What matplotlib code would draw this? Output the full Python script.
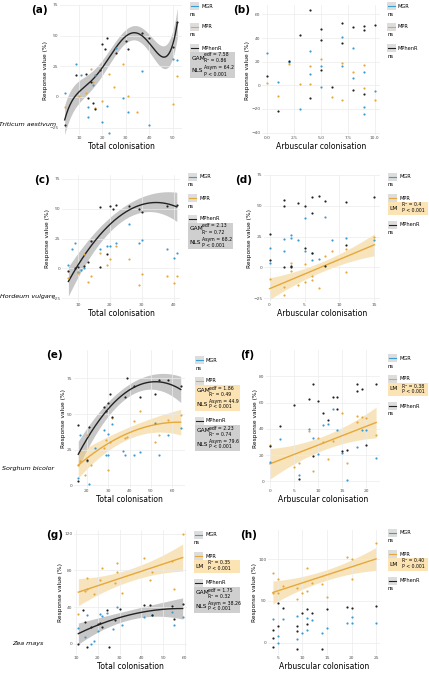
import numpy as np
import matplotlib
matplotlib.use("Agg")
import matplotlib.pyplot as plt

BLUE = "#3a9bd5"; ORANGE = "#e6a83a"; BLACK = "#222222"

# ---------------- data ----------------
a_blk_x = [4,9,13,14,15,16,17,19,20,21,22,26,30,31,37,40,50,52]
a_blk_y = [-23,18,19,-1,12,-5,-10,22,43,39,48,36,46,39,52,48,41,61]
a_blu_x = [4,9,11,14,14,16,17,20,22,23,26,29,31,37,40,50,52]
a_blu_y = [3,27,18,-16,-8,10,18,-20,-7,-29,40,-1,-12,21,-23,31,30]
a_org_x = [4,10,13,15,16,17,19,20,23,25,29,31,35,40,50,52]
a_org_y = [-8,1,3,23,12,-9,22,-3,19,8,27,1,-12,-38,-6,17]

b_blk_x = [0,1,2,3,4,4,5,5,5,6,7,7,8,8,9,9,9,10]
b_blk_y = [8,-22,21,43,64,-11,48,38,13,-1,53,36,49,-4,50,47,-7,51]
b_blu_x = [0,1,2,3,4,4,5,5,7,7,8,8,9,9,9,10]
b_blu_y = [27,3,20,-20,29,10,-1,16,41,16,32,6,11,-18,-24,-5]
b_org_x = [0,1,2,3,4,4,5,6,7,7,8,9,9,10]
b_org_y = [2,-9,18,1,16,1,22,-10,19,-12,11,17,-2,-12]

c_blk_x = [7,9,10,12,13,14,17,17,19,20,21,22,26,29,30,38,41]
c_blk_y = [-2,0,1,2,5,23,51,1,12,52,50,53,52,50,47,52,53]
c_blu_x = [7,8,9,10,11,12,17,19,20,22,26,29,30,38,40,41]
c_blu_y = [3,16,21,-3,-1,0,16,19,19,21,37,21,24,16,9,13]
c_org_x = [7,10,12,13,14,17,19,20,22,26,29,30,38,40,41]
c_org_y = [-8,-4,12,-11,-6,13,3,8,19,8,-14,-5,-6,-12,-6]

d_blk_x = [0,0,2,2,2,3,3,4,5,5,6,6,6,7,8,8,11,11,15]
d_blk_y = [27,6,55,50,0,0,1,52,50,16,57,44,12,58,54,1,53,18,57]
d_blu_x = [0,0,2,2,3,3,4,5,5,6,6,7,8,9,11,15]
d_blu_y = [16,4,23,13,24,26,22,40,13,12,6,7,41,22,24,22]
d_org_x = [0,2,2,3,3,4,5,5,6,6,7,8,9,11,11,15]
d_org_y = [-9,-22,-16,4,-3,-14,3,-12,-7,-10,-17,9,13,-4,15,25]

e_blk_x = [16,16,20,21,28,29,30,31,32,38,39,42,45,52,54,58,64]
e_blk_y = [42,3,18,41,55,52,58,64,48,62,75,70,62,64,74,74,70]
e_blu_x = [16,17,20,21,24,28,29,30,30,32,37,38,42,45,52,54,58,64]
e_blu_y = [5,35,17,1,26,39,21,21,36,43,24,21,21,23,44,21,35,40]
e_org_x = [16,17,19,20,22,28,29,30,31,32,38,39,42,45,52,54,58,64]
e_org_y = [14,17,7,35,14,26,32,11,30,47,33,34,45,52,30,35,46,49]

f_blk_x = [0,2,5,6,8,9,9,10,11,12,13,14,14,15,16,18,18,19,20,22]
f_blk_y = [27,42,58,2,63,74,19,61,52,47,64,55,64,23,24,74,69,70,28,74]
f_blu_x = [0,2,6,8,9,10,11,12,13,14,15,16,18,19,20,22]
f_blu_y = [15,32,5,40,33,21,43,44,55,39,22,1,26,39,39,18]
f_org_x = [0,5,6,8,9,10,11,12,13,15,16,18,18,19,20,22]
f_org_y = [28,11,14,38,8,33,30,17,31,52,14,45,50,49,48,35]

g_org_x = [11,14,15,15,18,21,22,28,29,29,31,41,44,45,54,55,59]
g_org_y = [33,58,60,72,54,70,83,66,88,78,55,93,70,78,90,60,120]
g_blk_x = [11,13,14,15,17,20,21,22,24,25,28,30,41,44,45,54,55,59]
g_blk_y = [0,37,24,-3,19,22,23,18,37,-3,26,38,42,42,32,41,27,43]
g_blu_x = [11,14,15,17,18,20,21,22,24,27,29,31,41,45,54,55,59]
g_blu_y = [17,8,31,0,3,14,33,30,34,16,40,21,29,32,35,21,29]

h_org_x = [4,4,5,5,6,9,9,10,11,11,12,14,15,19,20,20,25]
h_org_y = [84,60,76,60,68,65,52,60,89,62,72,70,55,103,100,76,120]
h_blk_x = [4,4,4,5,5,6,9,9,9,10,11,11,12,14,15,19,20,25]
h_blk_y = [-5,6,15,20,48,42,-8,14,20,35,40,22,36,-8,40,43,42,44]
h_blu_x = [4,5,5,6,9,9,10,11,11,12,14,15,19,20,20,25]
h_blu_y = [28,8,0,28,32,4,12,15,30,27,11,18,24,31,24,24]

species = ["Triticum aestivum", "Hordeum vulgare", "Sorghum bicolor", "Zea mays"]

W, H = 429, 680
fig = plt.figure(figsize=(W/100, H/100), dpi=100)

def ax_at(x0, y0, x1, y1):
    return fig.add_axes([x0/W, 1-y1/H, (x1-x0)/W, (y1-y0)/H])

def fit(ax, x, y, deg, color, band, lw=1.0, scale=0.45):
    x = np.asarray(x, float); y = np.asarray(y, float)
    xs = np.linspace(x.min(), x.max(), 200)
    p = np.polyfit(x, y, deg)
    yh = np.polyval(p, xs)
    sd = np.std(y - np.polyval(p, x))
    edge = 1 + 1.2*((xs - xs.mean())/(xs.max()-xs.mean()))**2
    w = sd*scale*edge
    ax.fill_between(xs, yh-w, yh+w, color=band, alpha=0.55, lw=0)
    ax.plot(xs, yh, color=color, lw=lw)

def style(ax, xlabel, xlim, ylim, xt, yt, label):
    ax.set_facecolor("white")
    ax.grid(True, color="#ebebeb", lw=0.5)
    for s in ax.spines.values(): s.set_visible(False)
    ax.set_xlim(*xlim); ax.set_ylim(*ylim)
    ax.set_xticks(xt); ax.set_yticks(yt)
    ax.tick_params(labelsize=3.2, length=0, pad=1, colors="#555")
    ax.set_xlabel(xlabel, fontsize=5.5, labelpad=1)
    ax.set_ylabel("Response value (%)", fontsize=4.2, labelpad=1)
    ax.text(-0.1, 1.0, label, transform=ax.transAxes, fontsize=7.5, fontweight="bold", ha="right", va="top")

def pts(ax, x, y, c):
    ax.scatter(x, y, s=2.5, color=c, zorder=3, lw=0)

def legend(x0, y0, items, bw=40):
    y = y0
    for name, color, stats in items:
        fig.patches.append(plt.Rectangle(((x0)/W, 1-(y+4)/H), 9/W, 8/H, transform=fig.transFigure,
                                         color="#dddddd", lw=0))
        fig.lines.append(plt.Line2D([(x0+1)/W, (x0+8)/W], [1-y/H]*2, color=color, lw=0.8, transform=fig.transFigure))
        fig.text((x0+11)/W, 1-y/H, name, fontsize=3.6, va="center")
        y += 8
        if stats is None:
            fig.text((x0)/W, 1-y/H, "ns", fontsize=3.8, va="center")
            y += 13
        else:
            bg = "#cfcfcf" if color == BLACK else "#fbe3b3"
            h = 13*len(stats)
            fig.patches.append(plt.Rectangle((x0/W, 1-(y-4+h)/H), bw/W, h/H, transform=fig.transFigure, color=bg, lw=0))
            for mdl, l1, l2 in stats:
                fig.text((x0+1.5)/W, 1-(y+2)/H, mdl, fontsize=4.2, va="center")
                fig.text((x0+14)/W, 1-(y-1)/H, l1, fontsize=3.3, va="center")
                fig.text((x0+14)/W, 1-(y+5)/H, l2, fontsize=3.3, va="center")
                y += 13
            y += 6

# ---------- (a)
ax = ax_at(60, 5, 182, 135)
fit(ax, a_blk_x, a_blk_y, 5, BLACK, "#999999")
pts(ax, a_blu_x, a_blu_y, BLUE); pts(ax, a_org_x, a_org_y, ORANGE); pts(ax, a_blk_x, a_blk_y, BLACK)
style(ax, "Total colonisation", (2, 54), (-31, 75), [10,20,30,40,50], [-25,0,25,50,75], "(a)")
legend(190, 6, [("MGR", BLUE, None), ("MPR", ORANGE, None),
                ("MPhenR", BLACK, [("GAM", "edf = 7.58", "R² = 0.86"), ("NLS", "Asym = 64.2", "P < 0.001")])], bw=45)
# ---------- (b)
ax = ax_at(262, 5, 380, 135)
pts(ax, b_blu_x, b_blu_y, BLUE); pts(ax, b_org_x, b_org_y, ORANGE); pts(ax, b_blk_x, b_blk_y, BLACK)
style(ax, "Arbuscular colonisation", (-0.5, 10.5), (-42, 68), [0,2.5,5,7.5,10], [-40,-20,0,20,40,60], "(b)")
ax.set_xticklabels(["0.0","2.5","5.0","7.5","10.0"])
legend(387, 6, [("MGR", BLUE, None), ("MPR", ORANGE, None), ("MPhenR", BLACK, None)])
# ---------- (c)
ax = ax_at(62, 175, 180, 302)
fit(ax, c_blk_x, c_blk_y, 2, BLACK, "#999999")
pts(ax, c_blu_x, c_blu_y, BLUE); pts(ax, c_org_x, c_org_y, ORANGE); pts(ax, c_blk_x, c_blk_y, BLACK)
style(ax, "Total colonisation", (5, 42), (-28, 78), [10,20,30,40], [-25,0,25,50,75], "(c)")
legend(188, 177, [("MGR", BLUE, None), ("MPR", ORANGE, None),
                  ("MPhenR", BLACK, [("GAM", "edf = 2.13", "R² = 0.72"), ("NLS", "Asym = 68.2", "P < 0.001")])], bw=45)
# ---------- (d)
ax = ax_at(264, 175, 380, 302)
fit(ax, d_org_x, d_org_y, 1, ORANGE, "#f3cf85")
pts(ax, d_blu_x, d_blu_y, BLUE); pts(ax, d_org_x, d_org_y, ORANGE); pts(ax, d_blk_x, d_blk_y, BLACK)
style(ax, "Arbuscular colonisation", (-0.8, 15.8), (-28, 75), [0,5,10,15], [-25,0,25,50,75], "(d)")
legend(388, 177, [("MGR", BLUE, None), ("MPR", ORANGE, [("LM", "R² = 0.4", "P < 0.001")]), ("MPhenR", BLACK, None)])
# ---------- (e)
ax = ax_at(74, 350, 185, 488)
fit(ax, e_blk_x, e_blk_y, 2, BLACK, "#999999")
fit(ax, e_org_x, e_org_y, 2, ORANGE, "#f3cf85")
pts(ax, e_blu_x, e_blu_y, BLUE); pts(ax, e_org_x, e_org_y, ORANGE); pts(ax, e_blk_x, e_blk_y, BLACK)
style(ax, "Total colonisation", (14, 66), (-2, 95), [20,30,40,50,60], [0,25,50,75], "(e)")
legend(195, 360, [("MGR", BLUE, None),
                  ("MPR", ORANGE, [("GAM", "edf = 1.86", "R² = 0.49"), ("NLS", "Asym = 44.9", "P < 0.001")]),
                  ("MPhenR", BLACK, [("GAM", "edf = 2.23", "R² = 0.74"), ("NLS", "Asym = 79.6", "P < 0.001")])], bw=45)
# ---------- (f)
ax = ax_at(266, 350, 380, 488)
fit(ax, f_org_x, f_org_y, 1, ORANGE, "#f3cf85")
pts(ax, f_blu_x, f_blu_y, BLUE); pts(ax, f_org_x, f_org_y, ORANGE); pts(ax, f_blk_x, f_blk_y, BLACK)
style(ax, "Arbuscular colonisation", (-0.8, 22.8), (-5, 100), [0,5,10,15,20], [0,20,40,60,80], "(f)")
legend(388, 358, [("MGR", BLUE, None), ("MPR", ORANGE, [("LM", "R² = 0.38", "P < 0.001")]), ("MPhenR", BLACK, None)])
# ---------- (g)
ax = ax_at(74, 530, 187, 655)
fit(ax, g_org_x, g_org_y, 1, ORANGE, "#f3cf85")
fit(ax, g_blk_x, g_blk_y, 2, BLACK, "#999999")
pts(ax, g_blu_x, g_blu_y, BLUE); pts(ax, g_org_x, g_org_y, ORANGE); pts(ax, g_blk_x, g_blk_y, BLACK)
style(ax, "Total colonisation", (9, 61), (-12, 124), [10,20,30,40,50,60], [0,40,80,120], "(g)")
legend(194, 535, [("MGR", BLUE, None), ("MPR", ORANGE, [("LM", "R² = 0.35", "P < 0.001")]),
                  ("MPhenR", BLACK, [("GAM", "edf = 1.75", "R² = 0.32"), ("NLS", "Asym = 38.26", "P < 0.001")])], bw=46)
# ---------- (h)
ax = ax_at(268, 530, 380, 655)
fit(ax, h_org_x, h_org_y, 1, ORANGE, "#f3cf85")
pts(ax, h_blu_x, h_blu_y, BLUE); pts(ax, h_org_x, h_org_y, ORANGE); pts(ax, h_blk_x, h_blk_y, BLACK)
style(ax, "Arbuscular colonisation", (3, 25.8), (-15, 135), [5,10,15,20,25], [0,50,100], "(h)")
legend(388, 533, [("MGR", BLUE, None), ("MPR", ORANGE, [("LM", "R² = 0.40", "P < 0.001")]), ("MPhenR", BLACK, None)])

for name, yy in zip(species, [126, 298, 470, 645]):
    fig.text(28/W, 1-yy/H, name, fontsize=4.6, style="italic", ha="center")

fig.savefig("out.png", dpi=100, facecolor="white")
